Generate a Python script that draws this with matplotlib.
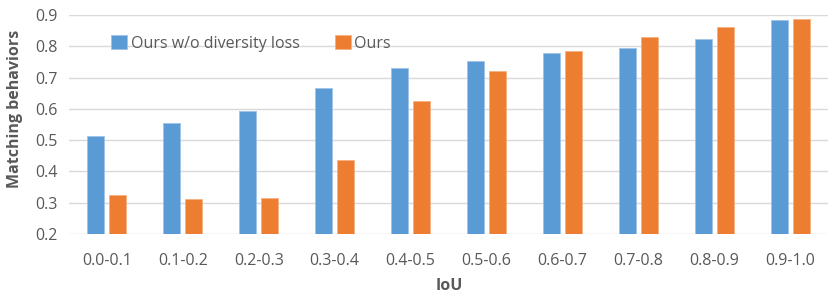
import matplotlib
matplotlib.use("Agg")
import matplotlib.pyplot as plt
import numpy as np

categories = ["0.0-0.1", "0.1-0.2", "0.2-0.3", "0.3-0.4", "0.4-0.5",
              "0.5-0.6", "0.6-0.7", "0.7-0.8", "0.8-0.9", "0.9-1.0"]
no_div = [0.513, 0.554, 0.594, 0.666, 0.730, 0.754, 0.779, 0.793, 0.823, 0.884]
ours = [0.324, 0.313, 0.315, 0.437, 0.624, 0.721, 0.784, 0.829, 0.863, 0.887]
yticks = [0.2, 0.3, 0.4, 0.5, 0.6, 0.7, 0.8, 0.9]

plt.rcParams["font.family"] = ["Open Sans", "DejaVu Sans"]
gray = "#595959"
W, H = 830, 294

fig = plt.figure(figsize=(8.3, 2.94), dpi=100)
ax = fig.add_axes([69 / W, 1 - 234 / H, 759 / W, 219 / H])

x = np.arange(len(categories))
w = 0.224
ax.bar(x - 0.145, no_div, w, bottom=0, color="#5B9BD5", edgecolor="#9DC3E6",
       linewidth=0.6, label="Ours w/o diversity loss", zorder=3)
ax.bar(x + 0.145, ours, w, bottom=0, color="#ED7D31", edgecolor="#F4B183",
       linewidth=0.6, label="Ours", zorder=3)

ax.set_xlim(-0.5, len(categories) - 0.5)
ax.set_ylim(0.2, 0.9)
ax.set_yticks(yticks)
ax.set_yticklabels(["%.1f" % v for v in yticks])
ax.set_xticks(x)
ax.set_xticklabels(categories)
ax.tick_params(axis="both", length=0, colors=gray, labelsize=11.5)
ax.tick_params(axis="x", pad=14)
ax.tick_params(axis="y", pad=8)
ax.grid(axis="y", color="#D9D9D9", linewidth=1, zorder=0)
for s in ax.spines.values():
    s.set_visible(False)

fig.text(15 / W, 1 - 109 / H, "Matching behaviors", rotation=90, ha="center", va="center",
         fontsize=11.5, fontweight="bold", color=gray)
fig.text(449 / W, 1 - 286 / H, "IoU", ha="center", va="center",
         fontsize=11.5, fontweight="bold", color=gray)

ax.legend(loc="center left", bbox_to_anchor=(0.037, 0.87), ncol=2, frameon=False,
          fontsize=11.5, labelcolor=gray, handlelength=1.0, handleheight=0.9,
          handletextpad=0.2, columnspacing=2.2)

fig.savefig("out.png", dpi=100)
